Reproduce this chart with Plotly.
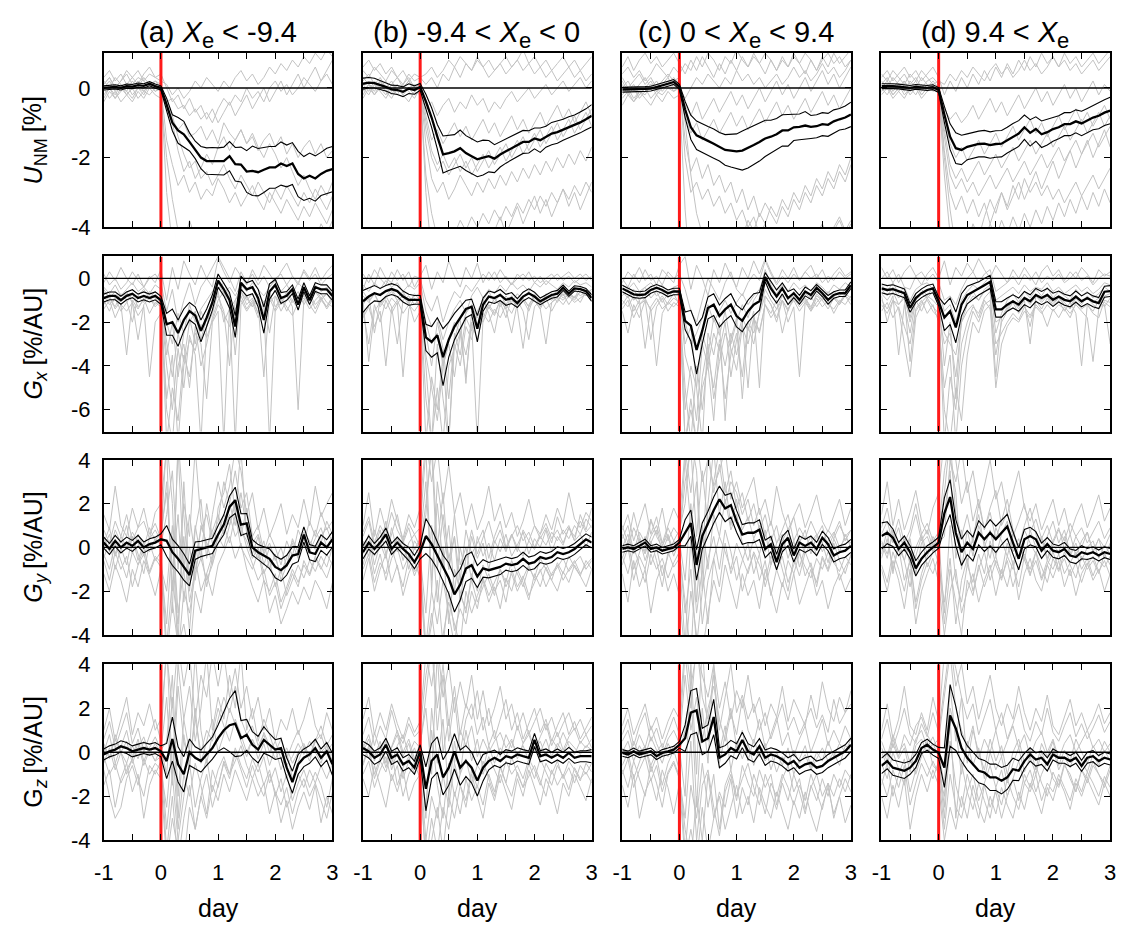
import plotly.graph_objects as go
from plotly.subplots import make_subplots

FONT = "Liberation Sans, Arial, sans-serif"

# ---------------- axes / labels ----------------
DAYS = [-1.0, -0.9, -0.8, -0.7, -0.6, -0.5, -0.4, -0.3, -0.2, -0.1, 0.0,
        0.1, 0.2, 0.3, 0.4, 0.5, 0.6, 0.7, 0.8, 0.9, 1.0,
        1.1, 1.2, 1.3, 1.4, 1.5, 1.6, 1.7, 1.8, 1.9, 2.0,
        2.1, 2.2, 2.3, 2.4, 2.5, 2.6, 2.7, 2.8, 2.9, 3.0]
EVENT_DAY = 0.0
X_RANGE = [-1, 3]
X_TICKS = [-1, 0, 1, 2, 3]
X_TICKTEXT = ["-1", "0", "1", "2", "3"]
X_MINOR_TICKS = [-0.5, 0.5, 1.5, 2.5]
Y_RANGES = [[-4, 1], [-7, 1], [-4, 4], [-4, 4]]
Y_TICKS = [[-4, -2, 0], [-6, -4, -2, 0], [-4, -2, 0, 2, 4], [-4, -2, 0, 2, 4]]
# column titles split as (text before subscript, subscript, text after subscript)
COL_TITLES = [("(a) <i>X</i>", "e", "&lt; -9.4"),
              ("(b) -9.4 &lt; <i>X</i>", "e", "&lt; 0"),
              ("(c) 0 &lt; <i>X</i>", "e", "&lt; 9.4"),
              ("(d) 9.4 &lt; <i>X</i>", "e", "")]
ROW_LABELS = [("<i>U</i>", "NM", "[%]"),
              ("<i>G</i>", "<i>x</i>", "[%/AU]"),
              ("<i>G</i>", "<i>y</i>", "[%/AU]"),
              ("G", "<i>z</i>", "[%/AU]")]
X_LABEL = "day"

# ---------------- row 1 : U_NM ----------------
U_A_MEAN = [0.0,0.02,0.03,0.0,0.05,0.04,0.08,0.06,0.12,0.05,0.0,
            -0.48,-1.0,-1.22,-1.33,-1.55,-1.78,-2.0,-2.1,-2.1,-2.1,
            -2.1,-1.96,-2.19,-2.2,-2.4,-2.38,-2.42,-2.35,-2.28,-2.28,
            -2.17,-2.24,-2.17,-2.47,-2.6,-2.52,-2.6,-2.47,-2.38,-2.33]
U_A_ERR = [0.06,0.06,0.06,0.06,0.06,0.06,0.06,0.06,0.06,0.06,0.06,
           0.18,0.23,0.37,0.37,0.26,0.25,0.32,0.38,0.39,0.38,
           0.4,0.42,0.48,0.5,0.6,0.71,0.68,0.65,0.6,0.6,
           0.62,0.6,0.6,0.65,0.63,0.65,0.65,0.62,0.65,0.65]
U_B_MEAN = [0.12,0.15,0.14,0.09,0.03,-0.04,-0.06,-0.11,-0.02,-0.06,0.03,
            -0.39,-0.85,-1.4,-1.91,-1.87,-1.82,-1.73,-1.87,-1.96,-2.05,
            -2.0,-1.96,-2.03,-1.91,-1.82,-1.73,-1.64,-1.55,-1.55,-1.45,
            -1.5,-1.4,-1.31,-1.27,-1.2,-1.13,-1.08,-0.99,-0.9,-0.8]
U_B_ERR = [0.16,0.15,0.14,0.13,0.12,0.12,0.13,0.14,0.14,0.12,0.1,
           0.21,0.28,0.35,0.53,0.5,0.48,0.52,0.5,0.5,0.5,
           0.5,0.45,0.4,0.36,0.34,0.33,0.33,0.33,0.32,0.3,
           0.35,0.3,0.32,0.32,0.3,0.3,0.3,0.3,0.3,0.32]
U_C_MEAN = [-0.05,-0.05,-0.04,-0.05,-0.03,-0.02,0.02,0.07,0.12,0.17,0.03,
            -0.62,-1.13,-1.36,-1.45,-1.52,-1.6,-1.69,-1.78,-1.8,-1.82,
            -1.8,-1.73,-1.64,-1.55,-1.45,-1.4,-1.33,-1.22,-1.22,-1.13,
            -1.12,-1.08,-1.12,-1.1,-1.04,-1.06,-0.96,-0.9,-0.85,-0.76]
U_C_ERR = [0.07,0.07,0.07,0.07,0.07,0.07,0.07,0.07,0.07,0.07,0.07,
           0.23,0.35,0.41,0.41,0.41,0.42,0.41,0.44,0.47,0.5,
           0.56,0.57,0.57,0.55,0.52,0.47,0.45,0.45,0.45,0.38,
           0.37,0.4,0.33,0.33,0.33,0.33,0.33,0.31,0.33,0.35]
U_D_MEAN = [0.05,0.06,0.05,0.04,0.03,0.0,0.03,0.01,0.0,0.02,-0.06,
            -0.76,-1.4,-1.73,-1.78,-1.69,-1.64,-1.61,-1.6,-1.64,-1.61,
            -1.6,-1.5,-1.4,-1.31,-1.13,-1.29,-1.18,-1.33,-1.27,-1.18,
            -1.13,-1.04,-1.04,-0.96,-1.02,-0.94,-0.85,-0.8,-0.71,-0.65]
U_D_ERR = [0.07,0.07,0.07,0.07,0.07,0.07,0.07,0.07,0.07,0.07,0.07,
           0.23,0.37,0.44,0.42,0.37,0.37,0.37,0.38,0.38,0.38,
           0.38,0.37,0.38,0.37,0.35,0.38,0.35,0.38,0.37,0.35,
           0.33,0.33,0.33,0.33,0.35,0.35,0.35,0.37,0.37,0.38]

GRAY_U_A = [
    [0.3,0.5,0.2,0.4,0.1,0.3,0.5,0.2,0.4,0.3,0.2, 0.1,-0.2,0.0,-0.3,-0.1,0.2,0.0,0.3,0.1,-0.1, 0.2,0.0,0.3,0.5,0.2,0.4,0.1,0.3,0.6,0.4, 0.7,0.5,0.8,0.6,0.9,0.7,1.0,0.8,1.1,0.9],
    [-0.2,0.0,-0.3,-0.1,0.1,-0.2,0.0,-0.1,0.1,0.0,-0.1, -0.4,-0.3,-0.6,-0.5,-0.8,-0.6,-0.9,-0.7,-1.0,-0.6, -0.3,-0.5,-0.2,-0.4,0.0,-0.3,-0.1,-0.4,0.0,0.2, -0.1,0.1,-0.2,0.0,0.3,0.1,-0.1,0.2,0.4,0.1],
    [0.0,-0.3,-0.1,-0.4,-0.2,0.0,-0.3,-0.1,-0.2,0.0,0.1, -0.6,-0.9,-1.2,-1.0,-1.4,-1.3,-1.1,-1.5,-1.2,-1.6, -1.0,-1.3,-1.5,-1.2,-1.6,-1.4,-1.8,-1.5,-1.3,-1.7, -1.4,-1.9,-1.6,-2.0,-1.7,-1.5,-1.9,-1.6,-2.0,-1.8],
    [0.2,0.0,0.3,0.1,-0.1,0.2,0.0,0.3,0.1,0.2,0.0, -1.5,-2.2,-2.8,-2.5,-3.0,-2.7,-3.2,-2.9,-3.1,-2.6, -2.9,-3.3,-3.0,-3.4,-3.1,-2.8,-3.2,-3.5,-3.0,-3.3, -3.6,-3.2,-3.5,-3.8,-3.4,-3.7,-3.3,-3.6,-3.9,-3.5],
    [-0.4,-0.1,-0.3,0.0,-0.2,-0.4,-0.1,-0.3,0.0,-0.2,-0.3, -2.0,-3.2,-4.1,-4.5,-3.8,-4.3,-4.8,-4.2,-4.6,-4.9, -4.4,-4.7,-5.0,-4.5,-4.8,-4.3,-4.6,-4.9,-4.4,-4.7, -4.2,-4.5,-4.0,-4.3,-4.6,-4.1,-4.4,-3.9,-4.2,-3.8],
    [0.1,0.3,0.0,0.2,0.4,0.1,0.3,0.2,0.0,0.2,0.1, -0.5,-1.0,-1.8,-2.4,-2.1,-2.6,-2.3,-1.9,-2.2,-1.7, -1.4,-1.8,-1.5,-1.2,-1.6,-1.3,-1.7,-2.0,-1.6,-1.9, -2.3,-2.0,-2.4,-2.8,-2.5,-2.9,-3.2,-2.8,-3.1,-2.7],
    [0.1,0.3,0.0,0.2,0.5,0.3,0.1,0.4,0.6,0.3,0.4, 0.0,-0.4,-0.2,-0.6,-0.3,-0.7,-0.5,-0.9,-0.6,-1.0, -0.7,-0.4,-0.8,-0.5,-0.2,-0.6,-0.3,0.0,-0.4,-0.1, 0.2,-0.2,0.1,0.4,0.0,0.3,0.6,0.2,0.5,0.8],
    [-0.3,0.0,-0.2,0.1,-0.1,-0.3,0.0,-0.2,0.1,-0.1,0.0, -0.3,-0.8,-1.4,-1.9,-2.3,-2.1,-2.6,-2.4,-2.8,-2.5, -2.2,-2.6,-2.9,-2.5,-2.8,-3.1,-2.7,-3.0,-3.3,-2.9, -3.2,-2.8,-3.1,-3.4,-3.0,-3.3,-2.9,-3.2,-3.5,-3.1],
    [0.0,0.2,-0.1,0.1,-0.2,0.0,0.2,-0.1,0.1,-0.1,0.0, -3.0,-4.5,-5.0,-4.6,-5.2,-4.8,-5.3,-4.9,-5.5,-5.0, -5.2,-4.8,-5.3,-4.9,-5.4,-5.0,-4.7,-5.1,-4.6,-5.0, -4.5,-4.9,-4.4,-4.8,-4.3,-4.7,-4.2,-4.6,-4.1,-4.5],
]
GRAY_U_B = [
    [0.5,0.3,0.6,0.4,0.2,0.5,0.3,0.1,0.4,0.2,0.3, 0.4,0.6,0.3,0.5,0.8,0.6,0.9,0.7,0.5,0.8, 0.6,0.3,0.5,0.7,0.4,0.6,0.8,0.5,0.7,0.4, 0.6,0.3,0.5,0.2,0.4,0.6,0.3,0.5,0.2,0.4],
    [-0.3,0.0,-0.2,0.1,-0.1,-0.3,0.0,-0.2,-0.4,-0.1,-0.2, -0.6,-0.4,-0.8,-0.5,-0.3,-0.7,-0.4,-0.6,-0.2,-0.5, -0.3,-0.7,-0.4,-0.6,-0.3,-0.1,-0.4,-0.2,0.0,-0.3, -0.1,0.1,-0.2,0.0,0.2,-0.1,0.1,0.3,0.0,0.2],
    [0.2,0.4,0.1,0.3,0.0,0.2,-0.1,0.1,0.3,0.0,0.1, -0.8,-1.5,-1.2,-1.6,-1.3,-1.0,-1.4,-1.1,-1.5,-1.2, -0.9,-1.3,-1.0,-1.4,-1.1,-0.8,-1.2,-0.9,-1.3,-1.0, -0.7,-1.1,-0.8,-0.5,-0.9,-0.6,-1.0,-0.7,-0.4,-0.8],
    [0.0,-0.2,0.1,-0.1,-0.3,0.0,-0.2,0.1,-0.1,-0.3,0.0, -1.6,-2.6,-3.0,-2.7,-3.2,-2.9,-2.5,-2.8,-3.1,-2.7, -3.0,-2.6,-2.9,-2.5,-2.8,-2.4,-2.7,-2.3,-2.6,-2.2, -2.5,-2.1,-2.4,-2.0,-2.3,-1.9,-2.2,-1.8,-2.1,-1.7],
    [-0.1,0.1,-0.2,0.0,0.2,-0.1,0.1,-0.2,0.0,0.1,-0.1, -2.5,-3.6,-4.3,-4.0,-4.6,-4.2,-3.8,-4.1,-3.7,-4.0, -3.6,-3.9,-3.5,-3.8,-3.4,-3.7,-3.3,-3.6,-3.2,-3.5, -3.1,-3.4,-3.0,-3.3,-2.9,-3.2,-2.8,-3.1,-2.7,-3.0],
    [0.3,0.1,0.0,0.2,-0.1,0.1,0.3,0.0,0.2,-0.1,0.0, -1.2,-2.0,-2.4,-2.1,-2.5,-2.2,-1.9,-2.3,-2.0,-2.4, -2.1,-1.8,-2.2,-1.9,-1.6,-2.0,-1.7,-1.4,-1.8,-1.5, -1.2,-1.6,-1.3,-1.0,-1.4,-1.1,-0.8,-1.2,-0.9,-0.6],
    [0.6,0.8,0.5,0.7,0.4,0.6,0.3,0.5,0.2,0.4,0.3, 0.1,0.3,0.0,0.4,0.2,0.6,0.3,0.7,0.5,0.9, 0.6,0.8,0.5,0.7,0.9,0.6,0.8,1.1,0.7,0.9, 0.6,0.8,0.5,0.7,0.9,0.6,0.8,0.5,0.7,0.9],
    [-0.2,0.1,-0.1,0.2,0.0,-0.2,0.1,-0.1,0.0,-0.2,-0.1, -0.9,-1.8,-2.2,-1.9,-2.3,-2.0,-2.4,-2.1,-2.5,-2.2, -1.9,-2.3,-2.0,-1.7,-2.1,-1.8,-1.5,-1.9,-1.6,-1.3, -1.7,-1.4,-1.1,-1.5,-1.2,-0.9,-1.3,-1.0,-0.7,-1.1],
    [0.1,-0.1,0.2,0.0,-0.2,0.1,-0.1,0.0,0.2,0.0,0.1, -3.0,-4.8,-5.5,-5.0,-4.6,-5.1,-4.7,-4.3,-4.8,-4.4, -4.0,-4.5,-4.1,-3.7,-4.2,-3.8,-3.4,-3.9,-3.5,-3.1, -3.6,-3.2,-3.7,-3.3,-2.9,-3.4,-3.0,-3.5,-3.1,-2.7],
]
GRAY_U_C = [
    [0.4,0.6,0.3,0.5,0.2,0.4,0.7,0.5,0.3,0.6,0.4, 0.7,0.5,0.9,0.6,1.0,0.8,0.5,0.9,0.7,1.1, 0.8,0.6,0.9,0.7,1.0,0.8,0.5,0.8,0.6,0.9, 0.7,1.0,0.8,0.5,0.8,1.0,0.7,0.9,0.6,0.8],
    [-0.3,-0.1,-0.4,-0.2,0.0,-0.3,-0.1,-0.2,0.0,-0.1,0.0, -0.3,0.0,0.3,0.1,0.4,0.2,0.0,0.3,0.1,0.5, 0.2,0.4,0.1,0.3,0.0,0.2,0.4,0.1,0.3,0.6, 0.3,0.5,0.2,0.4,0.7,0.4,0.6,0.3,0.5,0.8],
    [0.1,-0.2,0.0,-0.3,-0.1,0.1,-0.2,0.0,0.2,-0.1,0.1, -0.8,-1.3,-1.0,-1.5,-1.2,-0.9,-1.3,-1.0,-0.7,-1.1, -0.8,-1.2,-0.9,-0.6,-1.0,-0.7,-0.4,-0.8,-0.5,-0.9, -0.6,-0.3,-0.7,-0.4,-0.1,-0.5,-0.2,-0.6,-0.3,0.0],
    [-0.5,-0.2,-0.4,-0.1,-0.3,-0.5,-0.2,-0.4,-0.1,-0.3,-0.2, -3.5,-5.5,-4.8,-4.2,-4.9,-4.4,-4.7,-4.1,-4.5,-4.0, -4.3,-3.8,-4.1,-3.6,-3.9,-3.4,-3.7,-3.2,-3.5,-3.0, -3.3,-2.8,-3.1,-2.6,-2.9,-2.4,-2.7,-2.2,-2.5,-2.0],
    [0.0,0.2,-0.1,0.1,0.3,0.0,0.2,-0.1,0.1,0.3,0.1, -1.5,-2.4,-2.0,-2.6,-2.2,-2.8,-2.5,-3.0,-2.7,-3.3, -2.9,-3.5,-3.1,-3.7,-3.3,-3.6,-3.9,-3.4,-3.7,-3.2, -3.5,-3.0,-3.3,-2.8,-3.1,-2.6,-2.9,-2.4,-2.7,-2.2],
    [0.3,0.0,0.2,0.4,0.1,0.3,0.0,0.2,0.4,0.2,0.3, -1.0,-2.5,-3.6,-4.3,-4.8,-4.5,-5.0,-4.6,-4.9,-4.4, -4.7,-4.2,-4.6,-4.3,-4.8,-4.5,-4.2,-4.6,-4.3,-4.0, -4.4,-4.1,-4.5,-4.2,-3.9,-4.3,-4.0,-3.7,-4.1,-3.8],
    [0.6,0.9,0.5,0.8,1.0,0.7,0.9,0.6,0.8,1.0,0.7, 0.4,0.8,0.5,0.9,0.6,0.3,0.7,0.4,0.8,0.5, 0.9,0.6,1.0,0.7,0.4,0.8,0.5,0.9,0.6,1.0, 0.7,0.4,0.8,0.5,0.9,0.6,1.0,0.7,0.9,1.1],
    [-0.2,0.0,-0.3,-0.1,-0.2,0.1,-0.1,0.0,0.2,0.1,0.0, -0.5,-0.8,-0.4,-0.9,-0.6,-0.3,-0.7,-0.4,-0.1,-0.5, -0.2,-0.6,-0.3,0.0,-0.4,-0.1,0.2,-0.2,0.1,-0.3, 0.0,0.3,-0.1,0.2,0.5,0.1,0.4,0.0,0.3,0.6],
    [0.2,-0.1,0.1,-0.2,0.0,0.2,-0.1,0.1,0.3,0.0,0.2, -2.0,-3.0,-2.7,-3.2,-2.9,-3.4,-3.1,-3.6,-3.3,-3.8, -3.5,-4.0,-3.7,-4.2,-3.9,-4.4,-4.1,-4.6,-4.3,-4.8, -4.5,-4.2,-4.6,-4.3,-4.0,-4.4,-4.1,-3.8,-4.2,-3.9],
]
GRAY_U_D = [
    [0.4,0.2,0.5,0.3,0.1,0.4,0.2,0.5,0.3,0.1,0.2, 0.1,0.4,0.2,0.5,0.3,0.6,0.4,0.2,0.5,0.7, 0.4,0.6,0.3,0.5,0.8,0.5,0.7,0.4,0.6,0.9, 0.6,0.8,0.5,0.7,0.4,0.6,0.8,0.5,0.7,0.9],
    [0.0,-0.2,0.1,-0.1,-0.3,0.0,-0.2,0.1,-0.1,0.0,-0.1, -0.6,-0.9,-0.7,-1.0,-0.8,-0.5,-0.9,-0.6,-0.3,-0.7, -0.4,-0.8,-0.5,-0.2,-0.6,-0.3,0.0,-0.4,-0.1,-0.5, -0.2,0.1,-0.3,0.0,-0.4,-0.1,0.2,-0.2,0.1,-0.1],
    [0.2,0.0,0.3,0.1,-0.1,0.2,0.0,0.3,0.1,-0.1,0.0, -1.2,-2.2,-2.6,-2.3,-2.7,-2.4,-2.1,-2.5,-2.2,-1.9, -2.3,-2.0,-1.7,-2.1,-1.8,-1.5,-1.9,-1.6,-1.3,-1.7, -1.4,-1.1,-1.5,-1.2,-0.9,-1.3,-1.0,-0.7,-1.1,-0.8],
    [-0.2,0.0,-0.3,-0.1,0.1,-0.2,0.0,-0.3,-0.1,0.1,-0.1, -2.0,-3.5,-4.6,-5.0,-4.5,-3.9,-4.3,-3.7,-3.2,-3.6, -3.0,-3.4,-2.8,-3.2,-2.6,-3.0,-2.7,-3.1,-2.8,-3.2, -2.9,-3.3,-3.0,-2.7,-3.1,-2.8,-2.5,-2.9,-2.6,-2.3],
    [0.1,0.3,0.0,0.2,0.4,0.1,0.3,0.0,0.2,0.3,0.1, -0.8,-1.6,-2.0,-1.7,-2.1,-1.8,-1.5,-1.9,-1.6,-1.3, -1.7,-1.4,-1.1,-1.5,-1.2,-0.9,-1.3,-1.0,-1.4,-1.1, -0.8,-1.2,-0.9,-0.6,-1.0,-0.7,-1.1,-0.8,-0.5,-0.9],
    [-0.1,0.1,-0.2,0.0,0.2,-0.1,0.1,-0.2,0.0,0.2,0.0, -1.8,-3.0,-3.5,-3.1,-3.6,-3.2,-3.7,-3.3,-3.9,-3.4, -3.0,-3.5,-3.1,-2.7,-3.2,-2.8,-2.4,-2.9,-2.5,-2.1, -2.6,-2.2,-1.8,-2.3,-1.9,-1.5,-2.0,-1.6,-1.2,-1.7],
    [0.3,0.5,0.2,0.4,0.6,0.3,0.5,0.2,0.4,0.6,0.3, -0.2,0.2,-0.1,0.3,0.0,0.4,0.1,0.5,0.2,0.6, 0.3,0.7,0.4,0.8,0.5,0.9,0.6,1.0,0.7,0.9, 0.6,1.0,0.7,0.9,0.6,0.8,1.0,0.7,0.9,1.1],
    [-0.1,0.1,-0.2,0.0,0.2,-0.1,0.1,-0.2,0.0,0.1,-0.1, -1.4,-2.5,-2.9,-2.6,-3.0,-2.7,-3.1,-2.8,-2.5,-2.9, -2.6,-2.3,-2.7,-2.4,-2.1,-2.5,-2.2,-1.9,-2.3,-2.0, -1.7,-2.1,-1.8,-1.5,-1.9,-1.6,-1.3,-1.7,-1.4,-1.1],
    [0.0,0.2,-0.1,0.1,-0.2,0.0,0.2,-0.1,0.1,0.0,-0.1, -2.5,-4.2,-5.0,-4.4,-4.8,-4.3,-4.0,-4.4,-3.9,-4.3, -3.8,-4.2,-3.7,-4.1,-3.6,-4.0,-3.5,-3.9,-3.4,-3.8, -3.3,-3.7,-3.2,-3.6,-3.1,-3.5,-3.0,-3.4,-2.9,-3.3],
]

# ---------------- row 2 : G_x ----------------
GX_A_MEAN = [-0.9,-0.8,-0.8,-1.0,-0.8,-0.7,-0.9,-0.8,-0.9,-0.8,-1.0,
             -2.1,-2.0,-2.5,-1.9,-1.5,-1.7,-2.4,-1.8,-1.1,-0.1,
             -0.5,-1.0,-2.2,-0.2,-0.5,-0.4,-0.9,-1.9,-0.6,-0.3,
             -0.9,-0.8,-0.5,-1.2,-0.4,-1.0,-0.4,-0.5,-0.5,-0.8]
GX_A_ERR = [0.18,0.18,0.18,0.18,0.18,0.18,0.18,0.18,0.18,0.18,0.18,
            0.5,0.6,0.6,0.5,0.4,0.4,0.5,0.4,0.35,0.3,
            0.3,0.35,0.5,0.3,0.3,0.3,0.4,0.6,0.35,0.25,
            0.25,0.2,0.2,0.25,0.2,0.2,0.2,0.2,0.2,0.2]
GX_B_MEAN = [-1.05,-0.83,-0.68,-0.76,-0.58,-0.49,-0.58,-0.83,-0.98,-0.98,-0.98,
             -2.7,-2.9,-2.6,-3.6,-2.8,-2.2,-1.8,-1.4,-1.3,-2.3,
             -1.2,-0.83,-0.9,-0.76,-0.98,-0.9,-1.13,-0.83,-0.68,-0.83,
             -1.05,-0.9,-0.76,-0.7,-0.43,-0.7,-0.46,-0.49,-0.58,-0.9]
GX_B_ERR = [0.5,0.4,0.35,0.3,0.25,0.25,0.25,0.25,0.25,0.2,0.2,
            0.6,0.7,0.8,1.3,0.8,0.6,0.5,0.4,0.35,0.6,
            0.3,0.25,0.25,0.25,0.25,0.25,0.2,0.2,0.2,0.2,
            0.15,0.15,0.15,0.15,0.12,0.12,0.12,0.12,0.12,0.15]
GX_C_MEAN = [-0.46,-0.58,-0.73,-0.76,-0.73,-0.53,-0.43,-0.53,-0.68,-0.6,-0.6,
             -1.94,-2.16,-3.27,-2.39,-1.35,-1.2,-1.72,-1.42,-1.2,-1.72,
             -1.94,-1.5,-1.2,-1.05,0.06,-0.46,-0.83,-0.46,-0.9,-0.68,
             -0.98,-0.6,-0.76,-0.43,-0.68,-0.98,-0.76,-0.68,-0.68,-0.31]
GX_C_ERR = [0.15,0.15,0.15,0.15,0.15,0.15,0.15,0.15,0.15,0.15,0.15,
            0.4,0.7,1.1,0.6,0.5,0.5,0.5,0.5,0.5,0.5,
            0.5,0.5,0.5,0.4,0.2,0.3,0.3,0.25,0.3,0.2,
            0.2,0.2,0.2,0.15,0.15,0.2,0.15,0.15,0.15,0.15]
GX_D_MEAN = [-0.46,-0.53,-0.49,-0.58,-0.68,-1.35,-0.9,-0.68,-0.53,-0.46,-1.05,
             -1.79,-1.5,-2.24,-1.2,-0.76,-0.6,-0.46,-0.31,-0.16,-1.42,
             -1.42,-1.2,-1.05,-1.2,-0.9,-1.05,-0.76,-0.9,-0.76,-0.98,
             -0.83,-0.98,-1.05,-0.83,-1.05,-0.9,-1.05,-1.13,-0.61,-0.58]
GX_D_ERR = [0.2,0.2,0.2,0.2,0.2,0.2,0.2,0.2,0.2,0.2,0.2,
            0.6,0.6,0.7,0.5,0.4,0.35,0.3,0.3,0.3,0.35,
            0.35,0.3,0.3,0.3,0.3,0.3,0.3,0.3,0.3,0.3,
            0.25,0.25,0.25,0.25,0.25,0.25,0.25,0.25,0.25,0.25]

GRAY_GX_A = [
    [-0.2,0.3,-0.1,0.5,0.0,-0.3,0.2,-0.4,0.1,-0.2,0.4, -1.0,0.5,-0.5,0.8,0.2,-0.3,0.6,0.0,-0.4,0.9, 0.3,-0.2,0.5,0.1,-0.3,0.4,-0.1,0.6,0.2,-0.2, 0.3,0.7,0.1,-0.3,0.4,0.0,0.5,-0.1,0.3,0.6],
    [-1.0,-1.5,-0.8,-1.2,-3.5,-1.0,-1.4,-0.9,-1.6,-1.1,-1.3, -3.0,-4.5,-2.5,-3.8,-2.0,-1.5,-2.8,-1.8,-1.2,-0.8, -1.5,-4.0,-1.0,-0.6,-1.2,-0.9,-1.6,-1.1,-0.7,-1.3, -0.9,-1.5,-1.0,-0.6,-1.2,-0.8,-1.4,-0.9,-0.7,-1.1],
    [-0.6,-0.9,-1.3,-0.7,-1.0,-2.0,-0.8,-1.1,-0.6,-0.9,-1.2, -4.0,-6.0,-3.2,-5.0,-2.6,-3.5,-7.5,-2.2,-1.6,-0.6, -2.0,-1.4,-1.0,-0.4,-0.9,-1.3,-0.7,-1.1,-2.5,-0.8, -1.2,-0.6,-1.0,-1.4,-0.7,-1.1,-0.5,-0.9,-1.3,-0.8],
    [-1.4,-1.0,-1.8,-1.2,-1.5,-1.1,-1.7,-1.3,-4.5,-2.0,-1.6, -5.5,-3.5,-7.5,-4.0,-2.8,-3.3,-2.1,-2.7,-1.9,-1.2, -1.6,-2.2,-1.4,-1.0,-1.5,-1.1,-1.8,-1.3,-7.5,-1.4, -0.9,-1.3,-1.7,-1.1,-0.8,-1.2,-1.6,-1.0,-1.3,-0.9],
    [-0.4,-0.7,-0.3,-0.8,-0.5,-0.2,-0.6,-0.4,-0.7,-0.3,-0.5, -2.0,-3.0,-1.6,-2.5,-1.2,-2.0,-1.4,-1.0,-0.6,-0.2, -0.7,-0.4,-0.8,-0.3,-0.6,-0.2,-0.5,-0.8,-0.4,-0.1, -0.6,-0.3,-0.7,-0.2,-0.5,-0.8,-0.3,-0.6,-0.4,-0.7],
    [-0.8,-1.2,-0.9,-1.5,-1.1,-0.7,-1.3,-1.0,-0.8,-1.2,-0.9, -7.5,-5.0,-6.5,-3.5,-4.5,-2.5,-3.0,-5.5,-2.0,-1.5, -7.5,-1.2,-2.0,-0.8,-1.4,-1.0,-1.6,-1.2,-0.9,-1.5, -1.1,-0.8,-1.3,-6.0,-1.0,-0.7,-1.2,-0.9,-1.4,-1.0],
    [-0.5,-0.9,-0.6,-1.0,-0.7,-1.1,-0.8,-0.5,-0.9,-0.6,-0.8, -3.5,-2.0,-4.5,-2.5,-1.8,-3.0,-1.5,-2.2,-1.0,-0.5, -0.2,-0.8,-3.5,-0.6,-1.0,-0.7,-1.2,-4.5,-0.9,-0.6, -1.0,-0.7,-1.1,-0.8,-0.5,-0.9,-0.6,-1.0,-0.7,-0.5],
    [-1.2,-0.8,-1.4,-1.0,-0.6,-1.1,-2.8,-1.2,-0.9,-1.3,-1.0, -6.0,-7.5,-4.0,-3.0,-5.0,-2.2,-4.0,-3.0,-1.8,-1.0, -0.6,-1.4,-7.5,-1.2,-0.8,-1.3,-1.0,-1.6,-1.1,-0.8, -1.5,-1.0,-0.7,-1.2,-0.9,-1.4,-1.0,-0.7,-1.1,-1.3],
    [0.2,-0.3,0.0,-0.5,-0.2,0.3,-0.1,-0.4,0.0,0.2,-0.2, -1.5,-0.5,-2.0,-1.0,-0.2,-1.2,-0.4,0.0,0.5,1.0, 0.5,0.0,-0.6,0.3,-0.2,0.2,-0.3,0.1,-0.4,0.0, 0.2,-0.3,0.1,-0.2,0.3,-0.1,0.2,-0.3,0.0,0.2],
]
GRAY_GX_B = [
    [-0.5,0.2,-0.3,0.5,0.0,-0.2,0.4,-0.1,0.3,-0.4,0.1, 0.6,-0.5,0.3,-0.2,0.8,0.1,-0.4,0.5,0.0,0.7, -0.2,0.3,-0.1,0.4,0.0,-0.3,0.2,-0.1,0.3,-0.2, 0.1,-0.3,0.0,0.2,-0.1,0.1,-0.2,0.0,0.2,-0.1],
    [-1.5,-3.0,-1.2,-2.0,-1.0,-1.6,-1.1,-4.5,-1.4,-0.9,-1.3, -3.5,-5.0,-6.5,-4.0,-3.0,-4.5,-2.5,-3.5,-2.0,-7.5, -1.8,-1.2,-1.6,-1.0,-1.4,-0.8,-1.2,-0.9,-1.3,-0.7, -1.1,-0.8,-1.0,-0.6,-0.9,-0.7,-1.0,-0.6,-0.8,-0.5],
    [-0.8,-1.1,-0.7,-1.3,-0.9,-0.6,-1.0,-0.8,-1.2,-0.7,-1.0, -4.0,-7.5,-3.0,-5.5,-7.5,-2.5,-3.5,-1.8,-2.4,-1.5, -1.0,-1.4,-0.9,-1.3,-0.8,-1.1,-0.7,-1.0,-1.5,-0.8, -1.2,-0.7,-0.9,-0.5,-0.8,-0.6,-0.9,-0.4,-0.7,-0.5],
    [-1.2,-0.8,-2.5,-1.0,-1.4,-0.9,-1.2,-0.7,-1.1,-2.0,-1.5, -2.5,-4.0,-2.0,-3.2,-5.5,-2.8,-1.8,-4.8,-1.5,-2.2, -1.0,-1.6,-2.5,-1.1,-1.8,-0.9,-1.4,-3.2,-1.2,-0.8, -1.3,-0.9,-1.5,-1.0,-0.7,-1.2,-0.8,-1.1,-0.6,-0.9],
    [-0.3,-0.6,-0.2,-0.5,-0.1,-0.4,-0.2,-0.6,-0.3,-0.5,-0.2, -1.5,-2.2,-1.8,-2.8,-2.0,-1.4,-1.0,-1.6,-0.8,-0.4, -0.9,-0.5,-0.7,-0.3,-0.6,-0.2,-0.5,-0.3,-0.6,-0.2, -0.4,-0.1,-0.3,-0.5,-0.2,-0.4,-0.1,-0.3,-0.2,-0.4],
    [-1.0,-3.8,-1.5,-1.1,-0.8,-1.3,-3.0,-1.0,-0.8,-1.2,-0.9, -7.5,-4.5,-6.0,-3.5,-7.5,-3.0,-4.0,-2.2,-2.8,-1.6, -2.0,-1.3,-1.7,-1.0,-1.4,-2.5,-1.1,-0.9,-1.3,-1.0, -1.4,-3.0,-1.1,-0.8,-1.0,-0.7,-0.9,-0.6,-0.8,-0.6],
    [-0.6,-1.0,-0.7,-1.2,-0.8,-0.5,-0.9,-0.6,-1.1,-0.8,-0.7, -2.0,-3.0,-2.5,-4.0,-2.8,-2.0,-2.5,-1.6,-1.2,-1.8, -1.0,-0.6,-1.1,-0.7,-1.2,-0.8,-1.3,-0.9,-0.6,-1.0, -1.4,-0.9,-0.7,-1.1,-0.6,-0.9,-0.5,-0.8,-0.6,-0.9],
    [-1.8,-1.3,-2.2,-1.5,-4.0,-1.4,-1.0,-1.6,-1.2,-1.5,-1.1, -5.5,-7.5,-5.0,-7.5,-4.0,-3.2,-2.5,-4.5,-2.0,-2.8, -1.6,-2.0,-1.4,-1.8,-1.2,-1.6,-1.0,-1.5,-2.8,-1.3, -1.0,-1.4,-1.1,-0.9,-1.2,-0.8,-1.1,-0.9,-0.7,-1.0],
    [0.2,-0.2,0.4,0.0,-0.3,0.3,-0.1,0.2,-0.4,0.1,0.0, -1.0,-1.5,-0.8,-2.0,-1.2,-0.6,-0.9,-0.3,-0.6,-0.2, 0.2,-0.1,0.3,-0.2,0.1,-0.3,0.0,0.2,-0.1,0.1, -0.2,0.0,0.2,-0.1,0.1,0.3,0.0,0.2,-0.1,0.1],
]
GRAY_GX_C = [
    [-0.2,0.3,0.0,0.5,-0.1,0.2,-0.3,0.4,0.1,-0.2,0.6, 1.0,-0.5,0.6,0.0,-0.8,0.4,-0.2,0.7,0.1,-0.4, 0.5,0.0,0.8,0.2,0.9,0.3,-0.2,0.4,0.0,0.5, -0.1,0.3,0.6,0.0,0.4,-0.2,0.2,0.5,0.1,0.3],
    [-1.2,-0.8,-1.5,-1.0,-3.2,-1.3,-0.9,-1.4,-1.1,-0.7,-1.2, -5.0,-7.5,-4.0,-6.0,-3.5,-5.0,-2.8,-4.0,-2.5,-3.5, -2.0,-5.0,-1.8,-2.4,-1.2,-1.6,-1.0,-2.5,-1.4,-1.0, -1.5,-1.1,-0.8,-1.3,-0.9,-1.2,-0.8,-1.1,-0.7,-0.9],
    [-0.6,-0.9,-0.5,-1.0,-0.7,-0.4,-0.8,-0.6,-0.9,-0.5,-0.7, -3.5,-4.5,-6.5,-3.0,-4.0,-2.5,-3.3,-2.0,-4.5,-2.8, -1.8,-2.4,-1.5,-5.0,-0.8,-1.2,-2.0,-1.0,-1.5,-0.8, -1.2,-0.9,-1.4,-0.7,-1.0,-0.6,-0.9,-1.2,-0.7,-0.5],
    [-1.5,-2.5,-1.2,-1.8,-1.0,-1.4,-4.0,-1.6,-1.1,-1.3,-1.0, -7.5,-5.5,-7.5,-4.5,-3.0,-5.5,-3.8,-2.5,-3.2,-4.2, -2.2,-3.0,-1.8,-2.5,-1.2,-1.8,-1.4,-1.0,-2.0,-1.3, -4.5,-1.1,-1.5,-0.9,-1.3,-1.0,-1.6,-1.1,-0.8,-1.2],
    [-0.3,-0.5,-0.2,-0.6,-0.4,-0.2,-0.5,-0.3,-0.6,-0.4,-0.3, -2.0,-3.0,-2.5,-1.8,-1.2,-2.0,-1.5,-1.0,-1.6,-1.1, -0.7,-1.2,-0.8,-0.5,0.1,-0.4,-0.7,-0.3,-0.6,-0.2, -0.5,-0.3,-0.6,-0.2,-0.4,-0.7,-0.3,-0.5,-0.2,-0.4],
    [-1.0,-1.3,-0.8,-1.2,-0.9,-1.5,-1.1,-0.8,-1.2,-0.9,-1.1, -6.0,-4.0,-5.0,-7.5,-2.5,-3.5,-2.0,-6.5,-2.8,-1.8, -5.5,-2.2,-3.0,-1.5,-0.5,-1.0,-1.4,-0.8,-1.2,-0.7, -1.1,-0.9,-1.3,-0.8,-1.0,-1.4,-0.9,-1.2,-0.8,-1.0],
    [-0.8,-0.5,-1.0,-0.7,-0.4,-0.9,-0.6,-1.1,-0.7,-0.5,-0.8, -3.0,-2.2,-5.0,-2.5,-3.5,-1.8,-2.6,-1.5,-3.0,-2.0, -1.2,-1.8,-1.0,-0.6,0.4,-0.3,-0.8,-0.5,-1.0,-0.6, -1.1,-0.7,-0.9,-0.5,-0.8,-1.0,-0.6,-0.8,-0.5,-0.4],
    [-1.4,-1.0,-1.8,-1.2,-1.0,-2.8,-1.3,-0.9,-1.5,-1.1,-1.3, -7.5,-6.0,-7.5,-5.0,-4.0,-6.5,-3.0,-5.5,-3.5,-2.5, -4.5,-2.0,-2.5,-1.6,-0.8,-1.2,-1.8,-1.0,-1.4,-0.9, -1.3,-1.0,-1.5,-1.1,-0.8,-1.2,-1.4,-1.0,-1.2,-0.8],
    [0.0,-0.4,0.2,-0.2,0.4,-0.1,0.1,-0.3,0.3,0.0,0.2, -0.5,-1.5,-2.0,-1.0,0.0,-0.5,-1.0,-0.2,0.3,-0.5, -0.8,-0.2,0.2,-0.1,0.8,0.2,-0.3,0.1,-0.2,0.2, -0.1,0.3,0.0,0.2,-0.2,0.1,-0.1,0.3,0.0,0.2],
]
GRAY_GX_D = [
    [0.5,0.0,0.4,-0.2,0.3,0.6,0.1,-0.3,0.2,0.5,0.0, 0.8,-0.3,0.5,0.1,0.7,0.3,0.9,0.4,0.0,0.6, 0.2,-0.2,0.4,0.0,0.5,0.1,-0.3,0.3,0.6,0.1, 0.4,-0.1,0.3,0.0,0.5,0.2,-0.2,0.4,0.1,0.3],
    [-1.0,-1.4,-0.8,-3.5,-1.2,-2.5,-1.0,-1.5,-0.9,-1.3,-1.6, -3.0,-2.5,-4.5,-2.0,-1.5,-1.2,-1.8,-1.0,-1.4,-3.5, -2.0,-1.5,-1.1,-1.6,-1.2,-2.2,-1.0,-1.4,-0.9,-1.3, -1.0,-1.5,-1.1,-1.6,-4.0,-1.2,-1.5,-1.0,-1.3,-0.9],
    [-0.5,-0.8,-0.4,-0.9,-0.6,-1.8,-0.7,-0.5,-0.8,-0.4,-0.9, -4.0,-2.0,-5.5,-1.8,-1.0,-0.6,-1.0,-0.5,-0.3,-2.5, -1.6,-1.0,-0.7,-1.1,-0.6,-0.9,-0.5,-0.8,-0.4,-0.9, -0.6,-0.8,-1.0,-0.5,-0.8,-0.6,-0.9,-0.7,-0.4,-0.6],
    [-1.5,-1.1,-1.8,-1.3,-2.2,-3.0,-1.4,-1.0,-1.6,-1.2,-2.0, -5.0,-3.5,-7.5,-4.0,-2.5,-1.5,-2.0,-1.2,-1.0,-3.0, -2.5,-2.0,-1.6,-1.9,-1.3,-1.7,-1.2,-1.5,-2.2,-1.4, -1.8,-1.3,-1.6,-1.2,-1.5,-1.8,-3.8,-1.4,-1.1,-1.3],
    [-0.3,-0.6,-0.2,-0.7,-0.4,-1.0,-0.5,-0.3,-0.2,-0.5,-0.6, -1.5,-1.2,-2.0,-1.0,-0.6,-0.3,-0.5,-0.2,0.1,-1.0, -0.8,-0.6,-0.4,-0.7,-0.3,-0.6,-0.4,-0.5,-0.2,-0.6, -0.4,-0.7,-0.5,-0.3,-0.6,-0.4,-0.7,-0.5,-0.2,-0.3],
    [-0.8,-2.0,-1.0,-1.2,-0.9,-3.8,-1.5,-1.1,-0.8,-1.0,-1.3, -7.5,-4.5,-6.0,-3.0,-2.0,-1.3,-1.6,-0.9,-0.6,-4.5, -1.8,-1.3,-1.0,-1.4,-1.0,-3.0,-0.8,-1.1,-0.8,-1.2, -0.9,-1.1,-1.4,-0.9,-1.2,-0.8,-1.1,-0.9,-1.2,-3.0],
    [-0.7,-1.0,-0.6,-1.2,-0.8,-2.0,-1.0,-0.7,-0.9,-0.6,-1.2, -2.5,-3.0,-3.5,-2.0,-1.2,-0.8,-1.0,-0.6,-0.4,-2.0, -1.8,-1.4,-1.0,-1.3,-0.9,-1.2,-0.8,-1.0,-0.7,-1.1, -0.9,-1.2,-1.3,-0.8,-1.1,-0.9,-1.2,-1.4,-0.8,-0.7],
    [-1.2,-1.6,-1.0,-1.4,-3.0,-4.5,-1.8,-1.2,-1.0,-1.5,-1.8, -6.0,-7.5,-5.0,-6.5,-3.5,-2.0,-2.5,-1.5,-1.2,-5.0, -3.0,-2.2,-1.8,-2.0,-1.5,-1.8,-1.3,-1.6,-1.2,-1.5, -1.2,-1.4,-1.8,-1.1,-1.4,-1.2,-1.6,-1.8,-1.0,-1.1],
    [0.0,0.3,-0.2,0.2,-0.4,-0.5,0.1,0.3,-0.1,0.2,-0.2, -1.0,-0.8,-1.2,-0.5,0.0,0.3,-0.2,0.2,0.4,-0.6, -0.4,-0.2,0.1,-0.3,0.2,-0.1,0.3,-0.2,0.1,-0.1, 0.2,-0.2,0.0,0.3,-0.1,0.1,-0.3,0.0,0.2,0.1],
]

# ---------------- row 3 : G_y ----------------
GY_A_MEAN = [0.22,-0.07,0.3,0.0,0.22,0.07,0.3,0.0,0.15,0.22,0.37,
             0.3,-0.22,-0.52,-0.89,-1.26,-0.15,-0.07,0.0,0.07,0.59,
             1.04,1.85,2.15,1.04,1.1,0.0,-0.22,-0.37,-0.52,-0.89,
             -1.04,-0.81,-0.37,-0.3,0.59,-0.22,-0.3,0.22,0.0,0.37]
GY_A_ERR = [0.25,0.25,0.25,0.25,0.25,0.25,0.25,0.25,0.25,0.25,0.25,
            0.7,0.6,0.6,0.6,0.5,0.4,0.35,0.35,0.35,0.4,
            0.45,0.5,0.6,0.5,0.45,0.35,0.35,0.4,0.45,0.5,
            0.5,0.45,0.4,0.35,0.35,0.35,0.35,0.35,0.35,0.35]
GY_B_MEAN = [-0.22,0.22,-0.07,0.22,0.59,-0.07,0.22,-0.07,-0.3,-0.67,-0.22,
             0.52,0.15,-0.37,-0.96,-1.41,-2.15,-1.7,-0.96,-0.81,-1.33,
             -0.96,-1.04,-0.96,-0.89,-0.74,-0.81,-0.74,-0.52,-0.74,-0.67,
             -0.44,-0.52,-0.44,-0.22,-0.3,-0.22,-0.07,0.15,0.37,0.22]
GY_B_ERR = [0.3,0.3,0.25,0.25,0.3,0.25,0.25,0.25,0.3,0.3,0.3,
            0.8,0.7,0.6,0.6,0.7,0.8,0.7,0.6,0.6,0.5,
            0.4,0.35,0.35,0.35,0.3,0.3,0.3,0.3,0.3,0.3,
            0.25,0.25,0.25,0.25,0.25,0.25,0.25,0.25,0.25,0.25]
GY_C_MEAN = [-0.07,0.0,-0.07,0.07,0.22,-0.07,0.0,-0.15,-0.07,0.0,0.22,
             0.67,1.11,-0.8,0.52,1.1,1.7,2.2,1.78,1.93,1.19,
             0.59,0.67,0.67,0.81,-0.07,0.15,-0.67,0.15,0.44,-0.37,
             0.22,0.07,0.22,-0.07,0.44,0.15,-0.37,-0.22,-0.15,0.07]
GY_C_ERR = [0.15,0.15,0.15,0.15,0.15,0.15,0.15,0.15,0.15,0.15,0.15,
            0.6,0.6,0.7,0.6,0.55,0.6,0.6,0.6,0.55,0.5,
            0.45,0.45,0.45,0.45,0.4,0.35,0.35,0.35,0.35,0.3,
            0.3,0.3,0.3,0.3,0.3,0.3,0.3,0.3,0.3,0.3]
GY_D_MEAN = [0.52,0.67,0.44,-0.07,0.22,-0.22,-0.96,-0.52,-0.22,0.0,0.22,
             1.56,2.3,0.67,-0.22,0.22,-0.07,0.67,0.37,0.67,0.37,
             0.67,0.96,0.22,-0.52,0.37,0.52,0.37,-0.15,0.15,-0.15,
             -0.22,-0.07,-0.37,-0.44,-0.22,-0.3,-0.22,-0.37,-0.22,-0.3]
GY_D_ERR = [0.6,0.5,0.4,0.3,0.3,0.3,0.35,0.3,0.3,0.25,0.25,
            0.7,0.8,0.6,0.6,0.55,0.55,0.55,0.55,0.6,0.6,
            0.55,0.55,0.5,0.5,0.45,0.4,0.35,0.35,0.3,0.3,
            0.3,0.3,0.3,0.3,0.3,0.25,0.25,0.25,0.25,0.25]

GRAY_GY_A = [
    [1.5,0.8,2.8,1.0,0.5,1.8,0.9,1.2,0.4,1.6,2.0, 4.5,-3.0,5.0,1.5,-2.0,0.8,2.2,-0.5,1.5,3.0, 1.8,2.8,4.5,3.5,1.5,2.5,0.8,1.8,0.5,1.2, 2.0,0.6,1.5,0.9,2.2,1.0,2.8,1.4,2.0,2.5],
    [-0.5,0.3,-1.0,0.0,-0.8,0.5,-0.3,-1.2,0.2,-0.6,-0.2, -4.5,-1.5,-3.5,0.5,-2.5,-1.0,0.0,-1.8,-0.5,0.5, 1.0,0.2,1.5,0.0,-0.5,-1.0,-0.2,-1.5,-2.0,-1.2, -2.5,-1.8,-1.0,-1.6,-0.8,-1.3,-0.5,-1.0,-0.3,-0.8],
    [0.5,-0.2,0.8,0.2,1.0,-0.3,0.6,0.0,0.9,0.3,0.7, 2.5,-1.0,1.5,-2.5,0.0,-1.5,1.0,0.2,-0.8,1.8, 2.5,3.8,1.5,4.5,0.5,0.0,-0.5,0.3,-1.0,-0.3, -1.5,-0.8,0.2,-0.5,0.6,-0.2,0.4,0.9,0.0,0.5],
    [-1.2,-2.0,-0.8,-1.5,-2.5,-1.0,-1.8,-0.6,-1.3,-2.2,-1.0, -5.0,-2.5,-4.5,-3.5,-5.0,-2.0,-3.0,-1.2,-2.2,-0.8, -0.2,0.5,-0.5,0.2,-1.0,-1.8,-2.5,-1.5,-3.0,-2.2, -3.5,-2.8,-2.0,-2.6,-1.8,-2.4,-1.5,-2.0,-2.8,-1.6],
    [0.0,0.6,-0.4,0.3,-0.1,0.5,-0.6,0.2,-0.2,0.4,0.1, 1.5,3.5,-1.0,2.0,0.5,4.5,1.2,0.0,0.8,1.5, 0.6,2.0,1.0,2.5,0.8,-0.3,0.5,-0.8,0.0,-0.5, -1.2,-0.4,0.3,-0.2,0.5,0.0,0.8,0.2,1.2,0.6],
    [-0.6,-1.5,-0.2,-1.0,-0.4,-1.8,-0.8,-0.3,-1.2,-0.5,-0.9, -2.0,1.0,-3.0,-1.0,-3.8,-0.5,-2.0,-1.2,-0.3,0.5, 0.0,1.0,2.0,0.8,0.3,-0.5,0.0,-1.2,-0.6,-1.8, -1.0,-2.2,-1.5,-0.8,-1.4,-0.6,-1.1,-0.4,-0.9,0.0],
    [0.8,0.2,1.2,0.5,1.5,0.3,0.9,1.8,0.6,1.1,0.4, 5.0,2.0,-4.5,3.0,-1.5,1.0,-0.5,2.0,0.5,1.2, 3.0,2.0,3.5,1.8,2.5,0.5,1.0,-0.2,0.6,0.0, -0.8,0.3,-0.4,0.8,0.2,1.2,0.5,1.6,0.8,1.2],
    [-0.3,-1.0,0.2,-0.6,-1.4,-0.2,-0.8,0.0,-1.1,-0.4,-0.7, -3.5,0.5,-5.0,-2.0,-3.0,-1.2,-0.5,-1.5,-0.8,0.2, 0.8,1.5,0.5,1.0,0.0,-0.8,-1.5,-1.0,-2.2,-1.6, -2.8,-2.0,-1.2,-1.8,-0.6,-1.2,-0.4,-0.9,-1.4,-0.6],
    [0.2,0.9,-0.3,0.5,0.0,0.7,0.2,-0.4,0.4,0.8,0.3, 3.0,-2.0,4.5,-1.0,1.5,-0.5,0.8,1.5,0.2,0.6, 1.5,1.0,2.2,0.5,1.8,0.2,0.6,-0.3,0.2,-0.6, 0.0,-0.9,0.4,-0.2,0.7,0.3,-0.1,0.5,0.9,0.2],
]
GRAY_GY_B = [
    [1.0,2.5,0.5,1.8,0.8,2.2,1.2,0.4,1.5,0.9,1.8, 5.0,3.0,4.5,2.0,3.8,1.5,2.5,1.0,2.0,0.8, 1.5,2.8,1.2,2.0,0.9,1.6,0.5,1.2,2.2,1.0, 0.6,1.5,0.8,1.8,1.1,2.5,1.3,0.9,1.6,1.2],
    [-0.8,0.2,-1.2,-0.3,-1.5,-0.5,0.0,-1.0,-0.4,-1.3,-0.6, -4.5,-2.0,-3.5,-1.5,-3.0,-4.5,-2.2,-2.8,-1.5,-2.5, -1.8,-1.2,-2.0,-1.5,-2.5,-1.0,-1.8,-1.3,-2.2,-1.6, -1.0,-1.8,-1.2,-0.8,-1.5,-1.0,-0.6,-1.2,-0.8,-0.5],
    [0.3,-0.4,0.8,0.0,1.2,-0.2,0.5,-0.6,0.2,0.6,0.0, 2.0,4.5,-1.0,1.5,-0.5,0.5,-1.5,0.8,-0.3,0.2, 0.8,-0.5,0.5,1.2,0.0,0.6,-0.2,0.8,0.3,1.0, 0.4,0.9,0.2,1.4,0.6,1.0,0.3,1.5,0.8,1.8],
    [-1.5,-0.5,-2.0,-1.0,-0.3,-1.6,-0.8,-2.2,-1.2,-0.6,-1.4, -5.0,-3.0,-5.0,-4.0,-2.5,-3.5,-4.5,-2.0,-3.0,-2.2, -1.5,-2.5,-1.8,-2.8,-1.4,-2.0,-1.0,-1.6,-2.4,-1.2, -1.8,-0.9,-1.5,-2.0,-1.1,-1.6,-0.8,-1.3,-1.8,-1.0],
    [0.5,1.2,0.0,0.8,-0.3,0.6,1.5,0.2,0.9,-0.1,0.4, 3.0,-1.5,2.0,-0.8,1.0,-2.0,0.0,-1.2,0.5,-0.5, 0.2,-1.0,0.3,-0.2,0.6,-0.4,0.1,0.7,-0.3,0.4, 0.0,0.8,-0.2,0.5,0.1,0.9,0.3,0.6,0.0,0.7],
    [-0.3,0.6,-0.8,0.2,-0.5,0.9,-0.2,0.4,-1.0,0.0,-0.4, -3.0,1.0,-2.5,0.0,-3.5,-1.0,-2.0,-3.0,-1.2,-2.0, -0.8,-1.5,-2.2,-1.0,-1.6,-0.6,-1.2,-1.8,-0.9,-1.4, -0.5,-1.0,-1.5,-0.7,-1.2,-0.4,-0.9,-1.3,-0.6,-1.0],
    [0.7,1.4,0.2,1.0,0.5,1.6,0.8,0.3,1.1,0.6,0.9, 4.5,-2.0,3.0,1.0,-1.0,0.5,-2.5,-0.5,0.8,-0.3, 0.5,1.2,0.2,0.8,-0.1,0.5,1.0,0.3,0.7,0.0, 0.6,1.1,0.4,0.8,0.2,0.9,0.5,1.2,0.7,1.0],
    [-1.0,-0.3,-1.6,-0.7,-1.2,0.0,-0.9,-1.8,-0.5,-1.1,-0.8, -5.0,-3.5,-1.5,-4.5,-2.0,-3.8,-2.8,-3.5,-2.0,-2.8, -1.4,-2.2,-1.6,-1.0,-1.8,-1.2,-2.0,-1.4,-0.8,-1.5, -1.1,-0.7,-1.3,-0.9,-0.5,-1.1,-0.7,-0.4,-1.0,-0.6],
    [0.0,0.5,-0.4,0.2,0.8,-0.2,0.4,0.0,-0.6,0.3,-0.1, 1.5,5.0,0.0,2.5,-1.0,1.5,-0.8,0.0,-1.5,0.5, -0.4,0.2,-0.6,0.4,-0.2,0.6,0.0,-0.4,0.3,-0.1, 0.5,0.1,0.7,0.3,0.8,0.4,1.0,0.6,1.3,0.9],
]
GRAY_GY_C = [
    [0.8,1.5,0.3,1.2,2.0,0.6,1.4,0.2,1.0,1.8,1.2, 4.5,2.5,5.0,3.0,4.0,2.8,3.5,4.5,2.2,3.0, 1.8,2.5,3.2,1.5,2.2,1.0,2.8,1.6,0.8,1.4, 2.0,0.9,1.6,2.4,1.2,0.7,1.5,2.2,1.0,1.8],
    [-0.5,0.2,-1.0,-0.2,0.5,-0.8,0.0,-1.3,-0.4,0.3,-0.2, -3.0,-1.0,-4.5,-2.0,-0.5,0.5,-1.0,0.8,-0.2,-1.5, -0.6,0.2,-1.2,-0.3,-1.8,-0.8,0.0,-1.0,-2.0,-0.5, -1.3,-0.2,-0.9,-1.6,-0.4,-1.0,0.2,-0.6,-1.2,-0.3],
    [1.0,0.2,1.6,0.5,-0.2,1.2,0.6,1.8,0.3,0.9,0.5, 3.0,4.5,0.5,3.5,1.0,3.0,4.5,2.5,3.5,1.8, 2.5,1.2,2.0,0.8,1.5,0.3,1.0,-0.2,0.6,1.4, 0.2,0.8,-0.3,0.5,1.0,0.0,0.6,1.2,0.3,0.8],
    [-1.2,-2.5,-0.6,-1.8,-1.0,-3.0,-1.5,-0.8,-2.0,-1.2,-2.2, -5.0,-2.0,-4.0,-4.8,-3.0,-1.5,-2.5,-0.8,-1.8,-2.8, -1.2,-2.2,-1.5,-2.8,-1.0,-2.0,-3.0,-1.6,-2.4,-1.2, -2.6,-1.8,-1.0,-2.2,-1.5,-2.8,-1.8,-1.2,-2.0,-1.4],
    [0.0,0.6,-0.3,0.4,-0.6,0.2,0.8,-0.2,0.5,-0.4,0.3, -1.5,2.0,-2.5,1.0,-1.0,1.5,0.5,2.2,0.8,1.5, 0.2,-0.6,0.4,-0.3,0.8,-0.8,0.2,0.6,-0.5,0.3, -0.9,0.0,0.5,-0.4,0.2,-0.7,0.4,-0.2,0.6,0.0],
    [-0.8,0.0,-1.5,-0.4,-1.0,0.3,-0.6,-1.8,-0.2,-0.9,-0.5, -4.5,0.5,-3.0,-1.0,-3.5,-0.5,-1.8,0.2,-1.2,-0.4, -2.0,-1.0,-0.3,-1.5,-0.6,-2.2,-1.0,-0.4,-1.6,-0.8, -0.2,-1.3,-0.7,-1.8,-0.5,-1.1,-0.3,-1.5,-0.9,-0.4],
    [0.4,1.0,-0.2,0.7,0.2,1.3,0.5,0.0,0.9,0.3,0.8, 2.0,5.0,3.5,-1.0,4.5,2.5,3.8,2.0,3.0,2.5, 1.5,2.2,1.0,1.8,0.5,1.2,0.2,0.8,1.5,0.3, 0.9,0.4,1.2,0.6,0.2,0.8,0.4,1.0,0.5,0.8],
    [-0.4,-1.2,0.0,-0.8,-1.6,-0.3,-1.0,-0.5,-1.4,-0.7,-0.2, -2.5,-5.0,0.0,-3.5,-1.5,-0.5,0.5,-0.2,-1.0,0.2, -0.5,-1.2,-0.2,-0.8,-1.5,-0.4,-1.0,-1.8,-0.6,-1.2, -0.3,-0.9,-1.4,-0.5,-1.0,-0.2,-0.7,-1.1,-0.4,-0.8],
    [0.6,0.0,0.9,0.3,-0.3,0.5,1.0,0.1,0.6,-0.2,0.4, 4.0,1.0,3.0,-2.0,2.0,4.5,1.5,3.0,1.0,2.2, 0.8,1.4,0.4,1.0,-0.2,0.5,-0.5,0.3,0.8,-0.1, 0.4,-0.3,0.2,0.6,-0.2,0.3,0.7,0.0,0.4,0.2],
]
GRAY_GY_D = [
    [1.5,3.0,1.0,2.2,0.8,1.6,2.6,1.2,0.6,1.8,2.5, 5.0,4.0,3.0,4.5,2.5,3.5,1.8,2.8,4.0,2.2, 3.0,1.5,2.5,3.5,1.8,1.2,2.0,0.8,1.5,2.2, 1.0,1.8,0.6,1.4,2.0,0.9,1.6,2.4,1.2,1.8],
    [-0.5,0.4,-1.0,0.0,-1.5,-0.6,-2.5,-1.2,-0.4,0.2,-0.8, -2.5,-0.5,-3.5,-1.5,-0.5,-2.0,-1.0,-0.2,-1.5,-0.6, -1.2,0.2,-0.8,-1.8,-0.4,-1.0,-0.2,-1.4,-0.6,-1.0, -0.3,-1.2,-0.7,-0.2,-1.0,-0.5,-1.3,-0.6,-0.9,-0.4],
    [0.6,1.2,0.2,0.9,-0.2,0.5,1.5,0.3,0.8,0.0,0.6, 2.5,5.0,1.5,0.5,1.5,0.2,2.0,0.8,1.6,0.4, 1.2,2.2,0.8,0.0,1.0,1.8,0.6,-0.2,0.5,1.2, 0.2,0.8,-0.3,0.5,0.0,0.7,-0.2,0.4,0.0,0.6],
    [-1.0,-2.0,-0.6,-1.5,-2.8,-1.0,-3.5,-2.0,-1.2,-0.5,-1.6, -4.0,-2.0,-1.0,-3.0,-2.0,-1.2,-2.5,-1.5,-0.8,-2.2, -1.0,-1.8,-0.6,-2.4,-1.2,-0.5,-1.5,-2.0,-0.8,-1.4, -0.6,-1.8,-1.0,-2.2,-1.2,-0.7,-1.5,-1.0,-2.0,-1.2],
    [0.2,-0.5,0.8,-0.2,0.4,-0.8,0.0,0.6,-0.3,0.5,0.0, 1.5,3.5,-0.5,0.8,-0.8,0.5,1.5,0.0,0.8,-0.4, 0.6,1.2,-0.2,0.4,-0.6,0.8,0.0,0.5,-0.5,0.3, 0.9,-0.1,0.6,-0.4,0.3,0.7,-0.2,0.4,-0.5,0.2],
    [-0.3,0.8,-1.2,0.3,-0.6,-1.8,-0.4,0.5,-0.9,-0.2,0.4, -3.0,1.0,-1.5,-2.5,-0.8,-1.6,-0.3,-1.2,0.3,-0.8, -1.5,-0.4,-1.0,0.2,-0.6,-1.3,-0.2,-0.9,-1.6,-0.5, -1.1,-0.2,-0.8,-1.4,-0.4,-1.0,-0.6,-1.2,-0.3,-0.8],
    [0.9,1.8,0.4,1.3,0.2,0.8,2.0,0.6,1.1,0.3,0.7, 3.5,5.0,4.0,2.0,3.0,1.2,2.2,0.8,1.8,2.6, 1.0,1.6,0.5,1.2,2.0,0.7,1.3,0.4,1.0,0.2, 0.8,0.3,1.1,0.5,0.9,0.2,0.7,1.2,0.4,0.9],
    [-0.8,-1.6,-0.2,-1.0,-2.0,-0.5,-2.8,-1.5,-0.7,-1.2,-0.4, -3.5,-1.0,-2.5,-4.0,-1.5,-2.2,-0.8,-1.8,-1.0,-0.4, -1.4,-0.6,-1.8,-0.9,-0.3,-1.2,-0.6,-1.5,-0.8,-0.2, -1.0,-0.5,-1.3,-0.7,-1.6,-0.8,-0.4,-1.1,-0.6,-1.3],
    [0.3,-0.3,0.6,0.0,-0.6,0.4,-1.2,0.2,0.5,-0.2,0.2, 0.5,4.0,2.5,-1.0,0.8,-0.4,1.0,0.2,-0.5,0.9, 0.3,-0.4,0.6,0.0,0.8,0.2,-0.3,0.4,-0.6,0.1, -0.2,0.5,-0.4,0.2,-0.6,0.0,0.3,-0.5,0.1,-0.3],
]

# ---------------- row 4 : G_z ----------------
GZ_A_MEAN = [-0.1,0.04,0.12,0.27,0.19,0.04,0.12,0.19,0.12,0.19,0.04,
             -0.4,0.6,-0.55,-1.0,0.0,-0.25,-0.4,-0.1,0.19,0.64,
             1.0,1.23,1.3,0.64,0.79,0.34,0.12,0.56,0.34,0.12,
             0.19,-0.7,-1.36,-0.55,-0.25,-0.1,0.19,-0.25,0.04,-0.55]
GZ_A_ERR = [0.25,0.25,0.25,0.25,0.25,0.25,0.25,0.25,0.25,0.25,0.25,
            0.8,1.0,0.8,0.8,0.6,0.5,0.5,0.5,0.5,0.6,
            0.8,1.2,1.5,0.8,0.7,0.6,0.6,0.6,0.5,0.45,
            0.45,0.45,0.5,0.45,0.4,0.4,0.4,0.4,0.4,0.5]
GZ_B_MEAN = [0.19,0.04,-0.25,-0.1,0.34,-0.25,-0.1,-0.55,-0.4,-0.7,0.04,
             -1.66,-0.4,-0.1,-1.14,-0.7,0.04,-0.7,-0.4,-0.7,-1.29,
             -0.7,-0.4,-0.25,-0.4,-0.18,-0.25,-0.1,-0.18,-0.25,0.56,
             -0.18,-0.1,-0.25,-0.1,-0.25,-0.03,-0.25,-0.18,-0.18,-0.18]
GZ_B_ERR = [0.3,0.3,0.3,0.3,0.3,0.3,0.3,0.3,0.3,0.3,0.3,
            1.0,0.8,0.8,0.8,0.8,0.8,0.8,0.7,0.7,0.7,
            0.6,0.4,0.35,0.3,0.3,0.3,0.3,0.3,0.3,0.3,
            0.25,0.25,0.25,0.25,0.25,0.25,0.25,0.25,0.25,0.3]
GZ_C_MEAN = [-0.03,-0.1,0.04,-0.1,-0.03,0.04,-0.18,-0.03,0.04,0.12,0.34,
             0.64,1.8,1.9,0.49,0.64,1.6,-0.25,-0.1,0.19,0.04,
             0.56,0.04,-0.1,0.27,-0.25,-0.1,-0.18,-0.33,-0.55,-0.4,
             -0.7,-0.55,-0.48,-0.7,-0.62,-0.4,-0.25,-0.1,0.04,0.34]
GZ_C_ERR = [0.15,0.15,0.15,0.15,0.15,0.15,0.15,0.15,0.15,0.15,0.15,
            0.6,1.0,1.0,0.6,0.6,0.8,0.45,0.4,0.35,0.35,
            0.35,0.35,0.35,0.35,0.35,0.3,0.3,0.3,0.3,0.3,
            0.3,0.3,0.3,0.3,0.3,0.3,0.3,0.3,0.3,0.3]
GZ_D_MEAN = [-0.62,-0.4,-0.7,-0.77,-0.84,-0.7,-0.4,0.19,0.34,0.12,-0.03,
             -0.7,1.67,1.08,0.19,-0.25,-0.55,-0.84,-0.92,-1.14,-1.14,
             -1.29,-1.14,-0.77,-0.84,-0.4,-0.1,-0.33,-0.25,-0.55,-0.1,
             -0.25,-0.25,-0.4,-0.25,-0.62,-0.25,-0.18,-0.4,-0.25,-0.33]
GZ_D_ERR = [0.35,0.35,0.35,0.35,0.35,0.3,0.3,0.25,0.25,0.25,0.25,
            0.9,1.4,1.0,0.6,0.55,0.55,0.55,0.55,0.6,0.6,
            0.6,0.55,0.5,0.45,0.35,0.3,0.3,0.3,0.3,0.25,
            0.25,0.25,0.25,0.25,0.25,0.25,0.25,0.25,0.25,0.25]

GRAY_GZ_A = [
    [1.0,2.0,0.5,1.5,2.5,0.8,1.8,1.2,2.2,1.0,1.5, 4.5,2.0,5.0,3.0,4.5,1.5,3.5,2.5,4.5,3.0, 4.5,2.5,3.8,2.0,3.0,1.5,2.5,1.0,2.0,0.5, 1.5,1.0,2.0,0.8,1.5,2.5,1.2,0.6,1.8,1.0],
    [-0.5,0.2,-0.8,0.0,-1.0,-0.3,0.4,-0.6,0.1,-0.4,-0.2, -3.5,-1.0,-4.0,-2.0,-0.5,-2.5,-1.2,-0.3,-1.8,-0.8, -0.2,-1.0,-0.4,0.3,-0.6,-1.2,-0.5,-1.5,-0.8,-2.0, -1.2,-2.5,-1.8,-1.0,-1.6,-0.8,-1.4,-0.6,-1.2,-0.5],
    [0.3,-0.3,0.8,0.0,0.5,-0.5,0.2,0.7,-0.1,0.4,0.0, 2.5,-1.5,3.0,0.5,-0.5,1.5,0.0,1.0,0.5,1.5, 2.5,1.8,3.0,1.5,0.8,1.2,0.3,0.8,0.0,0.5, -0.3,0.2,-0.5,0.0,0.4,-0.2,0.6,0.0,0.3,-0.4],
    [-1.5,-0.8,-2.5,-1.2,-0.5,-1.8,-1.0,-3.0,-1.5,-0.8,-1.2, -5.0,-3.0,-4.5,-5.0,-2.5,-3.5,-2.0,-3.0,-1.5,-2.2, -1.0,-1.8,-0.8,-1.5,-2.2,-1.2,-2.0,-1.4,-2.8,-1.8, -3.2,-2.2,-3.5,-2.5,-1.8,-2.6,-1.5,-3.2,-2.0,-2.8],
    [0.0,0.8,-0.5,0.3,1.0,-0.2,0.6,-0.4,0.2,0.7,0.1, 0.5,3.5,-2.0,1.5,0.0,4.5,1.0,-0.5,0.8,2.0, 1.2,0.5,1.5,0.8,0.0,0.6,-0.3,0.4,-0.6,0.2, -0.8,0.0,-1.2,-0.4,0.3,-0.2,0.5,0.8,0.0,0.4],
    [-0.8,-2.0,-3.0,-2.5,-1.2,-0.6,-1.5,-0.3,-1.0,-0.5,-0.8, -2.5,0.5,-3.5,-1.0,-2.0,-0.5,-1.5,-2.8,-0.8,-1.6, -0.4,-1.0,0.2,-0.6,-1.2,-0.3,-0.9,-0.2,-1.4,-0.7, -1.8,-1.0,-2.2,-1.4,-0.8,-1.6,-0.9,-1.5,-2.5,-1.2],
    [0.6,1.4,0.2,1.0,1.8,0.4,1.1,0.0,0.8,1.5,0.5, 5.0,-1.0,4.0,1.5,3.0,0.5,2.0,4.5,1.0,2.5, 1.5,3.5,2.0,4.5,1.0,2.0,0.5,1.5,0.8,0.0, 0.6,-0.3,0.4,1.0,0.2,-0.4,0.5,1.2,0.3,0.8],
    [-0.2,-1.0,-0.5,-1.4,-0.8,-0.3,-1.2,-2.0,-0.6,-1.0,-0.4, -4.5,-2.0,-5.0,-3.0,-1.5,-3.5,-2.0,-1.0,-2.5,-1.5, -0.5,-1.2,0.0,-0.8,-1.6,-0.6,-1.4,-2.0,-1.0,-1.8, -2.4,-1.6,-2.8,-1.8,-1.2,-2.0,-1.4,-2.2,-3.0,-1.8],
    [0.4,-0.2,0.6,0.0,-0.5,0.3,-0.3,0.5,0.1,-0.4,0.2, -1.0,2.5,-3.0,0.8,-0.8,2.0,-0.5,0.5,1.5,0.0, 0.8,2.0,1.2,0.5,-0.2,0.6,0.0,0.9,0.3,-0.3, 0.2,-0.6,-0.2,0.4,-0.1,0.5,0.0,-0.5,0.3,-0.2],
]
GRAY_GZ_B = [
    [1.5,2.5,0.8,1.8,1.0,2.2,1.3,0.6,1.6,0.9,1.4, 4.5,3.0,5.0,2.5,4.0,1.8,3.2,2.0,3.5,1.5, 2.8,1.2,2.0,3.0,1.5,2.2,1.0,1.8,0.8,1.4, 2.0,1.0,1.6,0.7,1.3,1.8,1.0,1.5,0.8,1.2],
    [-0.5,0.3,-1.0,-0.2,0.5,-0.8,0.0,-1.2,-0.4,0.2,-0.6, -4.0,-2.0,-3.0,-1.0,-2.5,-0.5,-1.5,-2.2,-0.8,-1.6, -0.4,-1.2,-2.0,-0.6,-1.4,-0.2,-1.0,-1.6,-0.5,-1.2, -0.3,-0.9,-1.5,-0.6,-1.1,-0.4,-0.8,-1.3,-0.5,-0.9],
    [0.4,-0.3,0.9,0.1,0.6,-0.5,0.3,0.8,-0.1,0.5,0.2, 3.0,5.0,1.0,3.5,0.5,2.5,0.0,1.5,2.2,0.8, 1.6,0.3,1.0,-0.2,0.8,0.2,1.2,0.4,1.0,0.0, 0.7,1.3,0.3,0.9,0.1,0.7,1.1,0.4,0.8,0.2],
    [-1.2,-2.0,-0.6,-1.6,-2.5,-1.0,-1.8,-0.8,-2.2,-1.4,-1.0, -5.0,-4.0,-2.5,-4.5,-2.0,-3.0,-1.5,-2.5,-1.0,-2.0, -3.0,-1.4,-2.2,-1.0,-1.8,-2.6,-1.2,-2.0,-0.8,-1.6, -2.4,-1.2,-1.8,-2.8,-1.4,-2.0,-1.0,-1.6,-2.2,-1.2],
    [0.2,0.8,-0.2,0.5,-0.5,0.3,1.0,0.0,0.6,-0.3,0.4, 2.0,-1.0,4.5,0.0,1.5,-0.5,1.0,0.3,1.2,-0.2, 0.6,0.0,0.5,0.9,0.2,0.6,-0.3,0.4,0.8,0.1, 0.5,-0.2,0.6,0.2,0.9,0.3,-0.1,0.5,0.2,0.6],
    [-0.6,0.2,-1.2,-0.4,-0.9,0.0,-1.5,-0.7,-0.2,-1.0,-0.5, -2.5,1.0,-1.5,-3.0,-0.5,-2.0,-1.0,-0.3,-1.4,-0.6, -1.0,-0.2,-0.8,-1.4,-0.4,-1.0,-0.6,-1.2,-0.3,-0.8, -1.5,-0.5,-1.0,-0.4,-1.2,-0.7,-1.4,-0.6,-1.0,-0.5],
    [0.8,1.6,0.3,1.2,0.6,1.9,0.9,0.4,1.3,0.7,1.0, 3.5,5.0,2.0,4.0,1.2,3.0,0.8,2.2,1.5,2.8, 1.0,2.0,0.6,1.5,2.4,1.0,1.8,0.6,1.3,2.0, 0.9,1.5,0.5,1.2,1.8,0.8,1.4,0.6,1.1,1.6],
    [-1.0,-0.4,-1.6,-0.8,-0.2,-1.3,-0.6,-2.0,-1.0,-0.5,-1.2, -5.0,-3.0,-4.5,-2.5,-3.5,-1.8,-2.8,-1.2,-2.2,-1.5, -2.4,-1.0,-1.8,-0.7,-1.4,-2.0,-0.9,-1.6,-1.1,-0.6, -1.3,-2.0,-0.8,-1.5,-1.0,-1.7,-0.7,-1.2,-0.9,-1.4],
    [0.0,0.6,-0.4,0.3,-0.7,0.2,0.8,-0.2,0.4,-0.5,0.1, -3.0,2.0,-0.5,1.5,-2.0,0.5,-1.0,1.0,-0.4,0.6, -0.8,0.3,-0.5,0.2,-0.2,0.5,-0.1,0.3,-0.4,0.2, 0.0,0.6,-0.2,0.4,0.0,0.5,0.2,-0.1,0.3,0.1],
]
GRAY_GZ_C = [
    [1.2,2.0,0.8,1.5,2.2,1.0,1.6,0.6,1.4,2.0,1.5, 5.0,3.0,4.5,3.5,2.5,4.0,2.0,3.2,1.5,2.8, 2.0,3.5,1.8,2.5,1.2,2.2,1.6,3.0,1.4,2.4, 1.8,1.2,2.6,1.5,3.2,2.0,1.4,2.5,1.8,2.8],
    [-0.6,0.0,-1.2,-0.4,0.3,-0.9,-0.2,-1.5,-0.5,0.1,-0.8, -4.5,-1.5,-3.0,-0.5,-2.5,-1.0,-3.5,-1.5,-0.8,-2.0, -1.2,-0.5,-1.6,-2.4,-1.0,-1.8,-2.6,-1.4,-2.2,-1.0, -1.8,-2.8,-1.5,-2.2,-1.2,-2.0,-1.0,-1.6,-0.8,-1.2],
    [0.5,1.0,0.0,0.8,0.2,1.2,0.4,-0.2,0.6,1.0,0.4, 3.5,1.0,2.5,0.5,2.0,3.0,1.5,0.5,1.8,0.8, 2.4,1.0,0.4,1.5,0.2,0.8,1.6,0.3,0.9,-0.2, 0.6,1.2,0.0,0.7,1.5,0.3,1.0,0.4,1.2,0.6],
    [-1.5,-2.5,-1.0,-3.0,-1.8,-1.2,-2.2,-0.8,-1.6,-2.8,-1.4, -5.0,-3.5,-5.0,-2.5,-4.5,-3.0,-2.0,-3.5,-2.5,-1.5, -2.8,-2.0,-3.2,-1.6,-2.4,-3.0,-1.8,-2.6,-3.5,-2.2, -3.0,-1.8,-2.8,-3.6,-2.4,-1.6,-2.8,-2.0,-3.2,-2.4],
    [0.0,0.5,-0.4,0.3,-0.2,0.7,0.1,-0.5,0.4,-0.1,0.2, -2.0,4.0,-1.0,5.0,0.5,1.5,-0.5,0.8,2.0,0.2, 1.0,-0.4,0.6,-0.2,0.4,-0.8,0.0,-0.6,0.2,-1.0, -0.3,0.3,-0.7,0.0,-0.4,0.5,-0.2,0.4,0.0,0.6],
    [-0.8,-1.6,-0.4,-1.2,-2.0,-0.6,-1.4,-2.5,-1.0,-0.5,-1.2, -3.0,0.5,-4.0,-1.5,-0.8,-2.5,-3.8,-1.8,-1.0,-2.2, -0.6,-1.4,-2.0,-0.8,-1.6,-1.0,-2.4,-1.2,-0.6,-1.8, -1.2,-2.6,-1.6,-1.0,-2.0,-1.4,-3.0,-2.0,-1.2,-1.8],
    [0.8,1.5,0.3,1.2,1.8,0.5,1.1,0.2,0.9,1.6,0.8, 4.5,2.0,5.0,2.5,1.5,3.5,1.0,2.5,4.0,1.8, 2.6,1.5,2.2,1.0,1.8,0.6,1.4,2.2,1.0,1.6, 0.8,1.4,2.0,1.1,1.7,0.9,2.4,1.3,1.8,2.2],
    [-1.0,-0.3,-1.6,-0.8,-0.2,-1.3,-0.6,-1.8,-0.9,-0.4,-1.1, -3.5,-5.0,-2.0,-4.0,-1.0,-3.0,-1.8,-2.5,-1.2,-3.0, -1.6,-2.4,-1.0,-1.8,-2.8,-1.4,-2.0,-1.0,-1.6,-2.4, -1.5,-2.2,-1.0,-1.8,-2.6,-1.4,-2.0,-1.2,-1.8,-1.0],
    [0.2,-0.3,0.5,-0.1,0.3,-0.6,0.0,0.4,-0.2,0.3,0.0, 1.0,3.0,-2.5,2.0,-0.5,4.0,0.0,1.2,-0.8,0.5, -0.3,0.4,-0.6,0.2,-0.4,0.0,-0.9,-0.2,-0.6,0.1, -0.5,-0.1,-0.8,-0.3,0.2,-0.4,0.0,-0.6,0.3,0.1],
]
GRAY_GZ_D = [
    [1.0,2.2,0.6,1.5,3.0,1.2,0.8,1.8,1.0,2.5,1.4, 4.5,5.0,3.0,4.0,2.2,3.0,1.5,2.5,3.5,2.0, 1.2,2.2,1.5,3.0,1.8,1.0,2.0,1.4,2.6,1.2, 0.8,1.6,2.4,1.2,1.8,1.0,1.5,2.2,1.3,1.8],
    [-1.5,-0.5,-2.0,-1.0,-0.3,-1.8,-0.8,0.0,-0.6,-1.2,-0.4, -3.0,0.5,-1.5,-2.5,-1.0,-2.0,-3.0,-1.5,-2.5,-1.8, -3.0,-2.0,-1.2,-2.2,-1.0,-1.6,-0.6,-1.4,-2.0,-0.9, -1.5,-0.5,-1.2,-1.8,-0.8,-1.4,-0.6,-1.0,-1.6,-0.8],
    [0.2,-0.4,0.6,-0.2,0.8,0.3,1.2,1.6,0.8,0.3,0.6, 2.5,4.5,2.0,1.0,0.2,1.2,-0.3,0.6,0.0,1.0, -0.2,0.5,1.2,0.2,0.8,-0.2,0.5,0.9,0.0,0.6, -0.3,0.4,0.8,0.0,0.5,1.0,0.2,0.6,0.0,0.4],
    [-2.0,-3.0,-1.5,-2.5,-1.2,-3.5,-2.0,-1.0,-1.8,-0.8,-1.5, -4.0,-2.5,-3.5,-2.0,-3.0,-1.5,-2.5,-3.2,-2.0,-2.8, -1.6,-2.4,-3.0,-1.8,-2.6,-1.4,-2.0,-2.8,-1.6,-2.2, -1.2,-1.8,-2.6,-1.4,-2.0,-1.2,-1.8,-2.4,-1.4,-2.0],
    [0.5,-0.2,0.8,0.0,0.4,-0.5,0.6,1.0,0.2,0.7,0.0, -1.5,3.0,0.5,2.5,-0.5,1.0,0.0,-0.8,0.6,-0.4, 0.3,-1.0,0.0,0.6,-0.5,0.2,-0.8,0.4,-0.2,0.5, -0.6,0.1,-0.4,0.6,0.0,-0.5,0.3,-0.2,0.5,0.0],
    [-0.5,-1.2,0.0,-0.8,-1.5,-0.3,-1.0,-0.2,0.5,-0.6,-0.9, -2.0,1.5,-3.0,-0.5,-1.8,-1.0,-2.2,-1.4,-0.6,-1.6, -0.8,-2.0,-1.2,-0.4,-1.4,-0.8,-1.8,-1.0,-0.4,-1.2, -1.6,-0.6,-1.0,-1.8,-0.8,-1.2,-0.4,-1.0,-1.4,-0.6],
    [0.6,1.5,0.2,1.0,2.0,0.8,0.4,1.3,0.7,1.8,0.9, 3.0,5.0,3.8,2.5,1.5,2.2,0.8,1.6,2.4,1.0, 1.8,0.6,1.3,2.2,1.0,0.5,1.4,0.8,2.0,0.9, 0.5,1.2,1.8,0.7,1.3,0.6,1.1,1.7,0.9,1.4],
    [-1.2,-2.0,-0.8,-1.6,-0.6,-2.4,-1.4,-0.5,-1.1,-0.4,-1.0, -3.5,-1.0,-2.5,-3.0,-1.8,-2.6,-1.4,-2.2,-3.0,-1.6, -2.4,-1.2,-2.0,-2.6,-1.4,-1.8,-1.0,-2.2,-1.4,-1.8, -1.0,-1.6,-2.2,-1.2,-1.8,-0.9,-1.4,-2.0,-1.1,-1.6],
    [0.0,-0.6,0.4,-0.3,0.2,-0.9,0.3,0.6,0.0,0.4,-0.2, -2.5,2.0,1.0,-1.0,0.5,-0.6,0.2,-1.2,0.0,-0.8, -0.2,-1.4,-0.5,0.2,-0.9,-0.2,-1.0,0.0,-0.6,0.2, -0.8,-0.2,-0.7,0.1,-0.4,-0.9,-0.1,-0.6,0.1,-0.4],
]

# ---------------- panel table (row-major) ----------------
PANELS = [
    [(U_A_MEAN, U_A_ERR, GRAY_U_A), (U_B_MEAN, U_B_ERR, GRAY_U_B),
     (U_C_MEAN, U_C_ERR, GRAY_U_C), (U_D_MEAN, U_D_ERR, GRAY_U_D)],
    [(GX_A_MEAN, GX_A_ERR, GRAY_GX_A), (GX_B_MEAN, GX_B_ERR, GRAY_GX_B),
     (GX_C_MEAN, GX_C_ERR, GRAY_GX_C), (GX_D_MEAN, GX_D_ERR, GRAY_GX_D)],
    [(GY_A_MEAN, GY_A_ERR, GRAY_GY_A), (GY_B_MEAN, GY_B_ERR, GRAY_GY_B),
     (GY_C_MEAN, GY_C_ERR, GRAY_GY_C), (GY_D_MEAN, GY_D_ERR, GRAY_GY_D)],
    [(GZ_A_MEAN, GZ_A_ERR, GRAY_GZ_A), (GZ_B_MEAN, GZ_B_ERR, GRAY_GZ_B),
     (GZ_C_MEAN, GZ_C_ERR, GRAY_GZ_C), (GZ_D_MEAN, GZ_D_ERR, GRAY_GZ_D)],
]

for r, row in enumerate(PANELS):
    for c, (m, e, gs) in enumerate(row):
        assert len(m) == len(DAYS), f"mean r{r} c{c}: {len(m)}"
        assert len(e) == len(DAYS), f"err r{r} c{c}: {len(e)}"
        for k, g in enumerate(gs):
            assert len(g) == len(DAYS), f"gray r{r} c{c} #{k}: {len(g)}"

# ---------------- layout geometry (target pixels in the 1136x945 page) ----------------
PAGE_W, PAGE_H = 1136, 945
BODY_MARGIN = 8                      # default browser body margin around the figure
W, H = PAGE_W - 2 * BODY_MARGIN, PAGE_H - 2 * BODY_MARGIN
COL_PX = [(95, 327), (358, 590), (621, 853), (884, 1116)]
ROW_PX = [(42, 221), (251, 431), (460, 640), (670, 851)]


def px_x(p):
    return (p - BODY_MARGIN) / W


def px_y(p):
    return 1 - (p - BODY_MARGIN) / H


# advance widths (em) of Liberation Sans / Arial, used to lay out subscripts
CHAR_W = {" ": 0.278, "(": 0.333, ")": 0.333, "a": 0.556, "b": 0.556, "c": 0.5,
          "d": 0.556, "e": 0.556, "<": 0.584, "-": 0.333, ".": 0.278,
          "[": 0.278, "]": 0.278, "%": 0.889, "/": 0.278, "A": 0.667,
          "U": 0.722, "G": 0.778, "N": 0.722, "M": 0.833, "X": 0.667,
          "x": 0.5, "y": 0.5, "z": 0.5}


def text_w(s, size):
    plain = s.replace("<i>", "").replace("</i>", "").replace("&lt;", "<")
    return sum(CHAR_W.get(ch, 0.556) for ch in plain) * size


GRAY = "#c2c2c2"
RED = "#ff1a1a"

fig = make_subplots(rows=4, cols=4)

for r, row in enumerate(PANELS):
    for c, (m, e, gs) in enumerate(row):
        rr, cc = r + 1, c + 1
        for g in gs:
            fig.add_trace(go.Scatter(x=DAYS, y=g, mode="lines",
                                     line=dict(color=GRAY, width=1),
                                     hoverinfo="skip", showlegend=False),
                          row=rr, col=cc)
        fig.add_trace(go.Scatter(x=[EVENT_DAY, EVENT_DAY], y=Y_RANGES[r], mode="lines",
                                 line=dict(color=RED, width=3),
                                 hoverinfo="skip", showlegend=False),
                      row=rr, col=cc)
        fig.add_trace(go.Scatter(x=X_RANGE, y=[0, 0], mode="lines",
                                 line=dict(color="black", width=1.4),
                                 hoverinfo="skip", showlegend=False),
                      row=rr, col=cc)
        up = [a + b for a, b in zip(m, e)]
        lo = [a - b for a, b in zip(m, e)]
        for yy, wd in ((up, 1.1), (lo, 1.1), (m, 2.3)):
            fig.add_trace(go.Scatter(x=DAYS, y=yy, mode="lines",
                                     line=dict(color="black", width=wd),
                                     hoverinfo="skip", showlegend=False),
                          row=rr, col=cc)

        common = dict(showline=True, linecolor="black", linewidth=1.8, mirror="ticks",
                      ticks="inside", ticklen=6, tickwidth=1.3, tickcolor="black",
                      showgrid=False, zeroline=False,
                      tickfont=dict(family=FONT, size=22, color="black"))
        x0, x1 = COL_PX[c]
        y0, y1 = ROW_PX[r]
        fig.update_xaxes(domain=[px_x(x0), px_x(x1)], range=X_RANGE,
                         tickmode="array", tickvals=X_TICKS, ticktext=X_TICKTEXT,
                         minor=dict(tickmode="array", tickvals=X_MINOR_TICKS,
                                    ticks="inside", ticklen=6, tickwidth=1.3,
                                    tickcolor="black", showgrid=False),
                         showticklabels=(r == 3), ticklabelstandoff=11,
                         row=rr, col=cc, **common)
        fig.update_yaxes(domain=[px_y(y1), px_y(y0)], range=Y_RANGES[r],
                         tickmode="array", tickvals=Y_TICKS[r],
                         ticktext=[str(v) for v in Y_TICKS[r]],
                         showticklabels=(c == 0), ticklabelstandoff=7,
                         row=rr, col=cc, **common)


def ann(text, xpx, ypx, size, angle=0):
    return dict(text=text, x=px_x(xpx), y=px_y(ypx), xref="paper", yref="paper",
                xanchor="center", yanchor="middle", showarrow=False,
                textangle=angle, borderpad=0,
                font=dict(family=FONT, size=size, color="black"))


annotations = []
# column titles: main text + lowered subscript + remaining text
TF, TS, TITLE_Y = 29, 22, 20
for c, (pre, sub, post) in enumerate(COL_TITLES):
    xc = (COL_PX[c][0] + COL_PX[c][1]) / 2
    w1, w2 = text_w(pre, TF), text_w(sub, TS)
    gap = CHAR_W[" "] * TF if post else 0.0
    w3 = text_w(post, TF) if post else 0.0
    left = xc - (w1 + w2 + gap + w3) / 2
    annotations.append(ann(pre, left + w1 / 2, TITLE_Y, TF))
    annotations.append(ann(sub, left + w1 + w2 / 2, TITLE_Y + 0.33 * TF, TS))
    if post:
        annotations.append(ann(post, left + w1 + w2 + gap + w3 / 2, TITLE_Y, TF))
    annotations.append(ann(X_LABEL, xc, 921, 25))

# rotated row labels (read bottom to top), subscript shifted to the right
LF, LS, LABEL_X = 25, 18, 23
for r, (pre, sub, post) in enumerate(ROW_LABELS):
    yc = (ROW_PX[r][0] + ROW_PX[r][1]) / 2
    w1, w2 = text_w(pre, LF), text_w(sub, LS)
    gap = CHAR_W[" "] * LF
    w3 = text_w(post, LF)
    bottom = yc + (w1 + w2 + gap + w3) / 2
    annotations.append(ann(pre, LABEL_X, bottom - w1 / 2, LF, -90))
    annotations.append(ann(sub, LABEL_X + 0.33 * LF, bottom - w1 - w2 / 2, LS, -90))
    annotations.append(ann(post, LABEL_X, bottom - w1 - w2 - gap - w3 / 2, LF, -90))

fig.update_layout(width=W, height=H, margin=dict(l=0, r=0, t=0, b=0),
                  paper_bgcolor="white", plot_bgcolor="white",
                  showlegend=False, annotations=annotations,
                  font=dict(family=FONT, color="black"))

fig.write_html("out.html", config={"displayModeBar": False})
